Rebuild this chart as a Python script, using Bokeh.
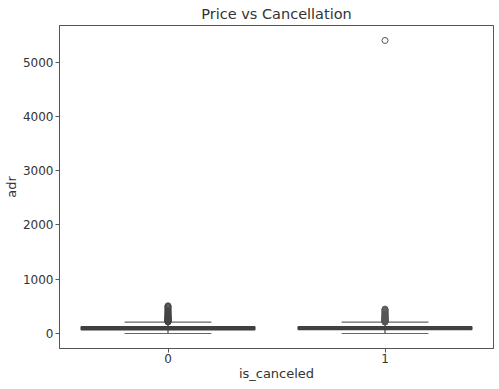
from bokeh.plotting import figure
from bokeh.models import Range1d, FixedTicker
from bokeh.embed import file_html
from bokeh.resources import INLINE

categories = [0, 1]
q1 = [67.5, 72.0]
median = [92.5, 96.2]
q3 = [125.0, 127.0]
whisker_low = [0.0, 0.0]
whisker_high = [211.0, 209.0]
box_colors = ["#3b4754", "#2d5878"]
outliers_0 = [213, 216, 220, 224, 228, 232, 236, 240, 245, 250, 255, 260, 266, 272, 278,
              285, 292, 300, 308, 316, 325, 335, 345, 356, 368, 380, 395, 410, 425, 440,
              455, 470, 485, 500, 510]
outliers_1 = [211, 214, 218, 222, 226, 230, 235, 240, 245, 250, 256, 262, 268, 275, 282,
              290, 298, 306, 315, 325, 335, 346, 358, 370, 383, 396, 410, 425, 438, 450,
              5400]
y_ticks = [0, 1000, 2000, 3000, 4000, 5000]

p = figure(frame_width=434, frame_height=323, output_backend="svg", toolbar_location=None,
           x_range=Range1d(-0.5, 1.5), y_range=Range1d(-276, 5676),
           min_border_left=52, min_border_right=2, min_border_top=0, min_border_bottom=0,
           title="Price vs Cancellation")
p.title.align = "center"
p.title.text_font = "DejaVu Sans"
p.title.text_font_size = "14.5px"
p.title.text_font_style = "normal"
p.title.text_color = "#333333"
p.title.standoff = 7
p.title.offset = 0
p.grid.visible = False
p.outline_line_color = "#555555"
p.outline_line_width = 1
p.background_fill_color = "white"

for ax in (p.xaxis, p.yaxis):
    ax.axis_line_color = "#555555"
    ax.major_tick_line_color = "#555555"
    ax.major_tick_out = 4
    ax.major_tick_in = 0
    ax.minor_tick_line_color = None
    ax.major_label_text_font = "DejaVu Sans"
    ax.major_label_text_font_size = "12px"
    ax.major_label_text_color = "#333333"
    ax.axis_label_text_font = "DejaVu Sans"
    ax.axis_label_text_font_size = "13px"
    ax.axis_label_text_font_style = "normal"
    ax.axis_label_text_color = "#333333"

p.yaxis.major_label_standoff = 2
p.yaxis.axis_label_standoff = 1
p.xaxis.major_label_standoff = 1
p.xaxis.axis_label_standoff = 0

p.xaxis.ticker = FixedTicker(ticks=categories)
p.yaxis.ticker = FixedTicker(ticks=y_ticks)
p.xaxis.axis_label = "is_canceled"
p.yaxis.axis_label = "adr"

half = 0.4
for i, c in enumerate(categories):
    # whiskers
    p.segment(x0=[c, c], y0=[whisker_low[i], q3[i]], x1=[c, c], y1=[q1[i], whisker_high[i]],
              line_color="#444444", line_width=1.2)
    # caps
    p.segment(x0=[c - half / 2] * 2, y0=[whisker_low[i], whisker_high[i]],
              x1=[c + half / 2] * 2, y1=[whisker_low[i], whisker_high[i]],
              line_color="#666666", line_width=1.2)
    # box
    p.quad(left=c - half, right=c + half, bottom=q1[i], top=q3[i],
           fill_color=box_colors[i], line_color="#3f3f3f", line_width=1.5)
    p.segment(x0=c - half, x1=c + half, y0=median[i], y1=median[i],
              line_color="#3f3f3f", line_width=1.5)

p.scatter(x=[0] * len(outliers_0), y=outliers_0, size=6, marker="circle",
          fill_color=None, line_color="#444444", line_width=1)
p.scatter(x=[1] * len(outliers_1), y=outliers_1, size=6, marker="circle",
          fill_color=None, line_color="#555555", line_width=1)

open("out.html", "w").write(file_html(p, INLINE))
